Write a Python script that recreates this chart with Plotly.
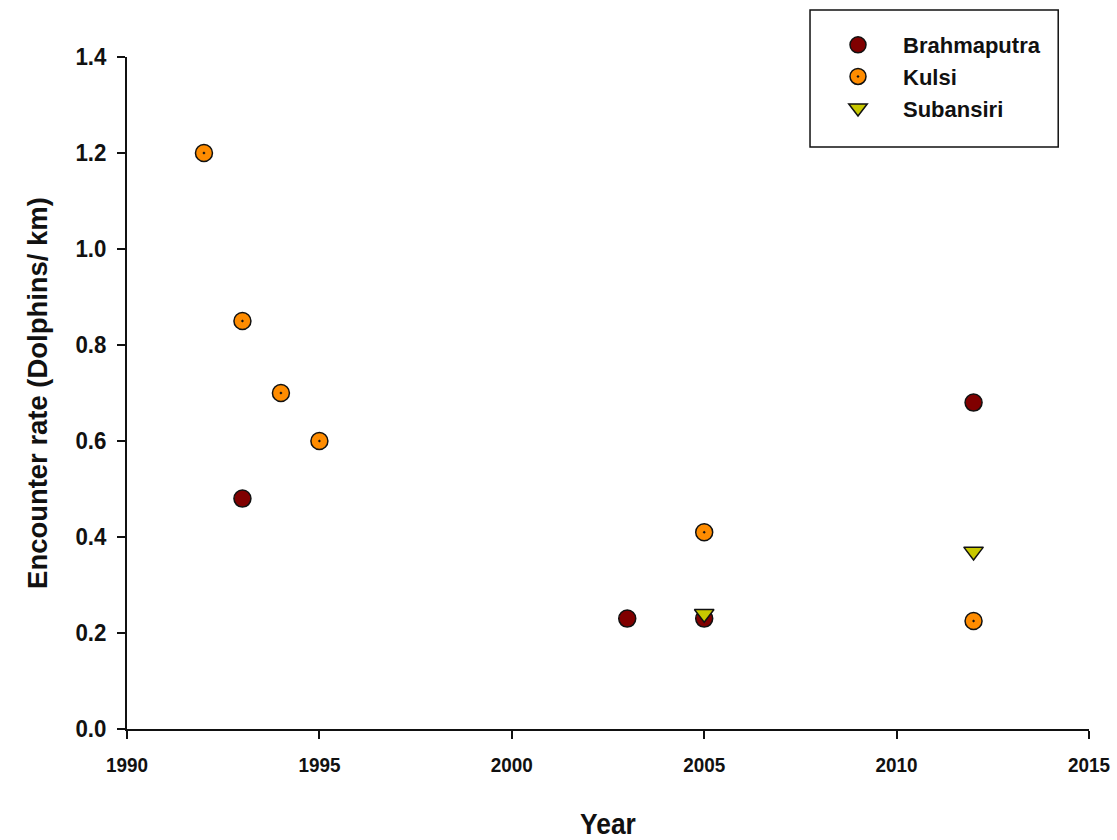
import plotly.graph_objects as go

# Dolphin encounter rates per river survey
brahmaputra_year = [1993, 2003, 2005, 2012]
brahmaputra_rate = [0.48, 0.23, 0.23, 0.68]

kulsi_year = [1992, 1993, 1994, 1995, 2005, 2012]
kulsi_rate = [1.20, 0.85, 0.70, 0.60, 0.41, 0.225]

subansiri_year = [2005, 2012]
subansiri_rate = [0.24, 0.37]

x_ticks = [1990, 1995, 2000, 2005, 2010, 2015]
y_ticks = [0.0, 0.2, 0.4, 0.6, 0.8, 1.0, 1.2, 1.4]

FONT = "Liberation Sans, Arial, sans-serif"
INK = "#111111"

fig = go.Figure()
fig.add_trace(go.Scatter(
    x=brahmaputra_year, y=brahmaputra_rate, mode="markers", name="Brahmaputra",
    marker=dict(symbol="circle", size=17, color="#800000",
                line=dict(color=INK, width=1.5)),
))
fig.add_trace(go.Scatter(
    x=kulsi_year, y=kulsi_rate, mode="markers", name="Kulsi",
    marker=dict(symbol="circle-dot", size=17, color="#FF8C00",
                line=dict(color=INK, width=1.5)),
))
fig.add_trace(go.Scatter(
    x=subansiri_year, y=subansiri_rate, mode="markers", name="Subansiri",
    marker=dict(symbol="triangle-down", size=17, color="#C8C800",
                line=dict(color=INK, width=1.5)),
))

axis_common = dict(
    showgrid=False, zeroline=False, showline=True, linecolor=INK, linewidth=1.5,
    ticks="outside", ticklen=8, tickwidth=1.5, tickcolor=INK, automargin=False,
)

fig.update_layout(
    width=1117, height=840,
    margin=dict(l=127, r=28, t=57, b=111, autoexpand=False),
    paper_bgcolor="white", plot_bgcolor="white",
    showlegend=True,
    legend=dict(
        x=0.7131, y=1.049, xanchor="left", yanchor="top",
        borderwidth=0, bgcolor="rgba(0,0,0,0)",
        font=dict(family=FONT, size=22, color=INK, weight="bold"),
        itemwidth=80,
    ),
    # frame around the legend
    shapes=[dict(type="rect", xref="paper", yref="paper",
                 x0=0.710, x1=0.968, y0=0.866, y1=1.070,
                 line=dict(color=INK, width=1.5), fillcolor="rgba(0,0,0,0)")],
    xaxis=dict(
        range=[1990, 2015], tickvals=x_ticks, ticktext=[str(v) for v in x_ticks],
        tickfont=dict(family=FONT, size=21, color=INK, weight="bold"),
        ticklabelstandoff=8,
        title=dict(text="Year", font=dict(family=FONT, size=30, color=INK, weight="bold"),
                   standoff=40),
        **axis_common,
    ),
    yaxis=dict(
        range=[0, 1.4], tickvals=y_ticks, ticktext=[f"{v:.1f}" for v in y_ticks],
        tickfont=dict(family=FONT, size=24, color=INK, weight="bold"),
        ticklabelstandoff=6,
        title=dict(text="Encounter rate (Dolphins/ km)",
                   font=dict(family=FONT, size=28, color=INK, weight="bold"),
                   standoff=17),
        **axis_common,
    ),
)

# Narrow the axis lettering horizontally (condensed face look)
condense_js = """
var gd = document.getElementById('{plot_id}');
function squeeze(sel, f) {
  gd.querySelectorAll(sel).forEach(function (t) {
    if (t.getAttribute('data-sq')) return;
    var w = t.getComputedTextLength();
    t.setAttribute('textLength', (w * f).toFixed(1));
    t.setAttribute('lengthAdjust', 'spacingAndGlyphs');
    t.setAttribute('data-sq', '1');
  });
}
function condenseAll() {
  squeeze('.xtick text', 0.9);
  squeeze('.ytick text', 0.93);
  squeeze('.g-xtitle text', 0.88);
  squeeze('.g-ytitle text', 0.98);
}
condenseAll();
gd.on && gd.on('plotly_afterplot', condenseAll);
"""

fig.write_html("out.html", post_script=condense_js)
